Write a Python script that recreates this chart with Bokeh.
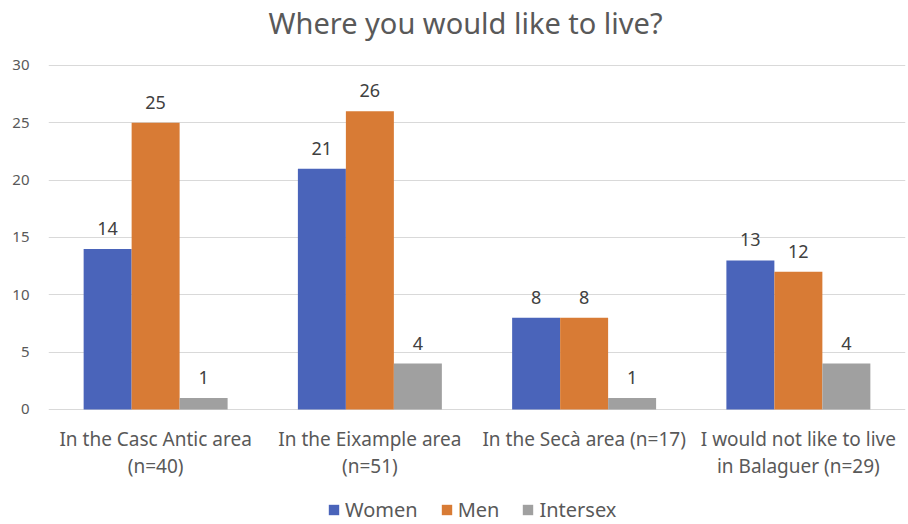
from bokeh.plotting import figure
from bokeh.models import ColumnDataSource, FactorRange, Range1d, LabelSet, Label, Legend, LegendItem
from bokeh.transform import dodge
from bokeh.core.properties import value
from bokeh.embed import file_html
from bokeh.resources import INLINE

categories = ["In the Casc Antic area\n(n=40)", "In the Eixample area\n(n=51)",
              "In the Secà area (n=17)", "I would not like to live\nin Balaguer (n=29)"]
women = [14, 21, 8, 13]
men = [25, 26, 8, 12]
intersex = [1, 4, 1, 4]
series = ["Women", "Men", "Intersex"]
colors = ["#4A64BA", "#D87B35", "#A0A0A0"]
title_text = "Where you would like to live?"
y_ticks = [0, 5, 10, 15, 20, 25, 30]

FONT = "Noto Sans"
TXT = "#595959"

line1 = [c.split("\n")[0] for c in categories]
line2 = [c.split("\n")[1] if "\n" in c else "" for c in categories]

src = ColumnDataSource(dict(cat=categories, Women=women, Men=men, Intersex=intersex,
                            Women_l=[str(v) for v in women], Men_l=[str(v) for v in men],
                            Intersex_l=[str(v) for v in intersex], l1=line1, l2=line2))

# frame spans the whole canvas height; value axis shows only 0..30
p = figure(x_range=FactorRange(*categories, range_padding=0), y_range=Range1d(-10.03, 35.66),
           width=908, height=524, output_backend="svg", toolbar_location=None,
           min_border_left=48, min_border_right=3, min_border_top=0, min_border_bottom=0)
p.outline_line_color = None
p.background_fill_color = "white"

w = 0.224
offsets = [-w, 0, w]
renderers = []
for s, c, off in zip(series, colors, offsets):
    r = p.vbar(x=dodge("cat", off, range=p.x_range), top=s, width=w, source=src,
               fill_color=c, line_color=None)
    renderers.append(r)
    p.add_layout(LabelSet(x=dodge("cat", off, range=p.x_range), y=s, text=s + "_l", source=src,
                          text_align="center", text_baseline="bottom", y_offset=14,
                          text_font=value(FONT), text_font_size="18px", text_color="#404040"))

# category labels under the baseline (two lines, each centred)
for col, off in (("l1", -30), ("l2", -57)):
    p.add_layout(LabelSet(x="cat", y=0, text=col, source=src, text_align="center",
                          text_baseline="middle", y_offset=off, text_font=value(FONT),
                          text_font_size="19px", text_color=TXT))

p.xaxis.visible = False
p.yaxis.ticker = y_ticks
p.ygrid.grid_line_color = "#D9D9D9"
p.xgrid.grid_line_color = None
p.yaxis.axis_line_color = None
p.yaxis.major_tick_line_color = None
p.yaxis.minor_tick_line_color = None
p.yaxis.major_label_text_font = FONT
p.yaxis.major_label_text_font_size = "15px"
p.yaxis.major_label_text_color = TXT
p.yaxis.major_label_standoff = 13

p.add_layout(Label(x=417, y=33.7, x_units="screen", y_units="data", text=title_text,
                   text_align="center", text_baseline="middle",
                   text_font=FONT, text_font_size="29px", text_color=TXT))

legend = Legend(items=[LegendItem(label=s, renderers=[r]) for s, r in zip(series, renderers)],
                orientation="horizontal", location=(279, 1), label_text_font=FONT,
                label_text_font_size="20px", label_text_color=TXT, glyph_width=13, glyph_height=13,
                spacing=22, padding=0, margin=0, border_line_color=None, background_fill_alpha=0,
                label_standoff=5)
p.add_layout(legend, "center")

open("out.html", "w").write(file_html(p, INLINE))
